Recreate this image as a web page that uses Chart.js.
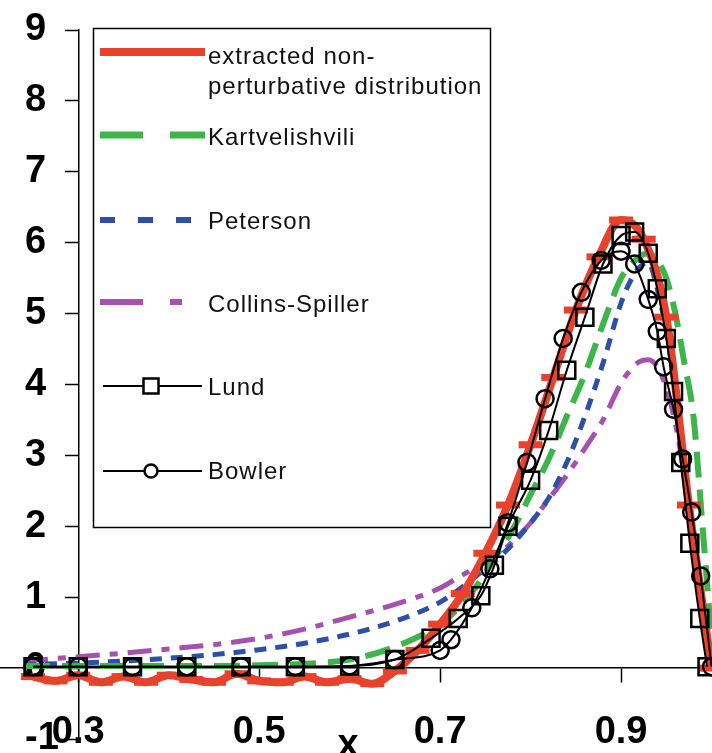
<!DOCTYPE html>
<html>
<head>
<meta charset="utf-8">
<script src="https://cdn.jsdelivr.net/npm/chart.js@4.4.1/dist/chart.umd.min.js"></script>
<style>
  html, body { margin: 0; padding: 0; background: #fff; }
  canvas { display: block; }
</style>
</head>
<body>
<canvas id="c" width="712" height="753"></canvas>
<script>
// x tick labels shown under the axis
const xTicks = [0.3, 0.5, 0.7, 0.9];

// smooth model curves (Kartvelishvili, Peterson, Collins-Spiller)
const xCurve = [0.24, 0.3, 0.35, 0.4, 0.45, 0.5, 0.55, 0.6, 0.65, 0.7, 0.72, 0.74, 0.76, 0.78, 0.8,
  0.82, 0.84, 0.86, 0.88, 0.9, 0.91, 0.92, 0.93, 0.94, 0.95, 0.96, 0.97, 0.98, 0.99, 1.0];
const kartvelishvili = [0.03, 0.03, 0.03, 0.03, 0.03, 0.04, 0.06, 0.12, 0.3, 0.62, 0.85, 1.15, 1.55, 1.95, 2.45,
  2.95, 3.55, 4.15, 4.85, 5.5, 5.68, 5.8, 5.85, 5.75, 5.5, 5.0, 4.3, 3.55, 2.0, 0.4];
const peterson = [0.05, 0.07, 0.1, 0.14, 0.19, 0.26, 0.35, 0.48, 0.66, 0.93, 1.1, 1.3, 1.5, 1.75, 2.05,
  2.4, 2.9, 3.55, 4.3, 5.15, 5.45, 5.65, 5.72, 5.35, 4.75, 3.95, 2.9, 1.8, 0.75, 0.0];
const collinsSpiller = [0.1, 0.16, 0.21, 0.27, 0.33, 0.42, 0.55, 0.72, 0.9, 1.13, 1.28, 1.42, 1.57, 1.78, 2.05,
  2.38, 2.72, 3.1, 3.5, 4.02, 4.2, 4.32, 4.35, 4.25, 3.95, 3.45, 2.7, 1.75, 0.8, 0.0];

// extracted non-perturbative distribution (binned points)
const xExtracted = [0.25, 0.275, 0.3, 0.325, 0.35, 0.375, 0.4, 0.425, 0.45, 0.475, 0.5, 0.525, 0.55, 0.575,
  0.6, 0.625, 0.65, 0.675, 0.7, 0.725, 0.75, 0.775, 0.8, 0.825, 0.85, 0.875, 0.9, 0.925, 0.95, 0.975, 1.0];
const extracted = [-0.12, -0.18, -0.1, -0.2, -0.12, -0.2, -0.1, -0.16, -0.2, -0.08, -0.18, -0.2, -0.12, -0.2,
  -0.15, -0.22, -0.04, 0.25, 0.62, 1.05, 1.62, 2.3, 3.15, 4.1, 5.05, 5.8, 6.32, 6.05, 4.95, 2.3, 0.0];

// Lund (squares)
const xLund = [0.25, 0.3, 0.36, 0.42, 0.48, 0.54, 0.6, 0.65, 0.69, 0.72, 0.745, 0.76, 0.775, 0.8, 0.82, 0.84,
  0.86, 0.88, 0.9, 0.915, 0.93, 0.94, 0.95, 0.958, 0.966, 0.976, 0.987, 0.995];
const lund = [0.02, 0.02, 0.02, 0.02, 0.02, 0.02, 0.03, 0.12, 0.42, 0.7, 1.02, 1.45, 2.0, 2.65, 3.35, 4.2,
  4.95, 5.7, 6.1, 6.15, 5.85, 5.35, 4.65, 3.9, 2.9, 1.76, 0.7, 0.02];

// Bowler (circles)
const xBowler = [0.25, 0.3, 0.36, 0.42, 0.48, 0.54, 0.6, 0.65, 0.7, 0.712, 0.735, 0.755, 0.775, 0.796, 0.816,
  0.836, 0.856, 0.878, 0.9, 0.915, 0.93, 0.94, 0.947, 0.958, 0.968, 0.978, 0.988, 1.0];
const bowler = [0.02, 0.02, 0.02, 0.02, 0.02, 0.02, 0.03, 0.12, 0.25, 0.4, 0.85, 1.4, 2.05, 2.9, 3.8,
  4.65, 5.3, 5.75, 5.88, 5.7, 5.2, 4.75, 4.25, 3.65, 2.95, 2.2, 1.3, 0.02];

const pts = (xs, ys) => xs.map((x, i) => ({ x, y: ys[i] }));

const RED = "#e8412c";
const GREEN = "#3cb64a";
const BLUE = "#2e4fa6";
const PURPLE = "#a650b0";
const tickFont = { family: '"Liberation Sans", Arial, sans-serif', size: 38, weight: "bold" };

// legend box drawn in Excel style (box, samples, two-line first label)
const boxLegend = {
  id: "boxLegend",
  afterDraw(chart) {
    const ctx = chart.ctx;
    ctx.save();
    ctx.strokeStyle = "#000";
    ctx.lineWidth = 1.5;
    ctx.strokeRect(93.5, 28.5, 397, 499);

    const line = (y, color, width, dash) => {
      ctx.beginPath();
      ctx.strokeStyle = color;
      ctx.lineWidth = width;
      ctx.setLineDash(dash);
      ctx.moveTo(100, y);
      ctx.lineTo(205, y);
      ctx.stroke();
      ctx.setLineDash([]);
    };
    line(52, RED, 8, []);
    line(135, GREEN, 7, [43, 27]);
    line(220, BLUE, 6, [15, 23]);
    line(302, PURPLE, 6, [43, 27, 12, 27]);

    ctx.strokeStyle = "#000";
    ctx.lineWidth = 2;
    ctx.beginPath();
    ctx.moveTo(103, 386);
    ctx.lineTo(202, 386);
    ctx.moveTo(103, 471);
    ctx.lineTo(202, 471);
    ctx.stroke();
    ctx.lineWidth = 2.5;
    ctx.fillStyle = "#fff";
    ctx.fillRect(143.5, 378.5, 15, 15);
    ctx.strokeRect(143.5, 378.5, 15, 15);
    ctx.beginPath();
    ctx.arc(151, 471, 6.5, 0, Math.PI * 2);
    ctx.fill();
    ctx.stroke();

    ctx.fillStyle = "#111";
    ctx.font = '24px "Liberation Sans", Arial, sans-serif';
    ctx.letterSpacing = "1px";
    ctx.textBaseline = "middle";
    ctx.textAlign = "left";
    ctx.fillText("extracted non-", 208, 57);
    ctx.fillText("perturbative distribution", 208, 87);
    ctx.fillText("Kartvelishvili", 208, 138);
    ctx.fillText("Peterson", 208, 222);
    ctx.fillText("Collins-Spiller", 208, 305);
    ctx.fillText("Lund", 208, 388);
    ctx.fillText("Bowler", 208, 472);

    // axis title sits in the tick-label row
    ctx.letterSpacing = "0px";
    ctx.fillStyle = "#000";
    ctx.font = 'bold 38px "Liberation Sans", Arial, sans-serif';
    ctx.textAlign = "center";
    ctx.textBaseline = "alphabetic";
    ctx.fillText("x", 348, 756);
    ctx.restore();
  },
};

new Chart(document.getElementById("c"), {
  type: "scatter",
  data: {
    datasets: [
      {
        label: "Lund",
        data: pts(xLund, lund),
        showLine: true,
        borderColor: "#000",
        borderWidth: 2,
        pointStyle: "rect",
        pointRadius: 12,
        pointBorderWidth: 2.5,
        pointBorderColor: "#000",
        pointBackgroundColor: "transparent",
        cubicInterpolationMode: "monotone",
        order: 0,
      },
      {
        label: "Bowler",
        data: pts(xBowler, bowler),
        showLine: true,
        borderColor: "#000",
        borderWidth: 2,
        pointStyle: "circle",
        pointRadius: 8.5,
        pointBorderWidth: 2.5,
        pointBorderColor: "#000",
        pointBackgroundColor: "transparent",
        cubicInterpolationMode: "monotone",
        order: 1,
      },
      {
        label: "extracted non-perturbative distribution",
        data: pts(xExtracted, extracted),
        showLine: true,
        borderColor: RED,
        borderWidth: 8,
        pointStyle: "line",
        pointRadius: 12,
        pointBorderWidth: 7,
        pointBorderColor: RED,
        cubicInterpolationMode: "monotone",
        order: 2,
      },
      {
        label: "Kartvelishvili",
        data: pts(xCurve, kartvelishvili),
        showLine: true,
        borderColor: GREEN,
        borderWidth: 6,
        borderDash: [26, 12],
        pointRadius: 0,
        cubicInterpolationMode: "monotone",
        order: 3,
      },
      {
        label: "Peterson",
        data: pts(xCurve, peterson),
        showLine: true,
        borderColor: BLUE,
        borderWidth: 5,
        borderDash: [12, 9],
        pointRadius: 0,
        cubicInterpolationMode: "monotone",
        order: 4,
      },
      {
        label: "Collins-Spiller",
        data: pts(xCurve, collinsSpiller),
        showLine: true,
        borderColor: PURPLE,
        borderWidth: 5,
        borderDash: [24, 10, 8, 10],
        pointRadius: 0,
        cubicInterpolationMode: "monotone",
        order: 5,
      },
    ],
  },
  options: {
    responsive: false,
    animation: false,
    layout: { autoPadding: false, padding: { top: 30, bottom: 14, left: 0, right: 0 } },
    plugins: { legend: { display: false }, tooltip: { enabled: false } },
    scales: {
      x: {
        type: "linear",
        min: 0.2135,
        max: 1.0005,
        position: { y: 0 },
        afterBuildTicks(axis) {
          axis.ticks = xTicks.map((v) => ({ value: v }));
        },
        afterFit(scale) {
          scale.paddingLeft = 0;
          scale.paddingRight = 0;
        },
        border: { color: "#000", width: 1.5 },
        grid: { drawOnChartArea: false, tickLength: 14, tickColor: "#000", tickWidth: 1.5 },
        ticks: {
          padding: 28,
          color: "#000",
          font: tickFont,
          maxRotation: 0,
          autoSkip: false,
          callback: (v) => Number(v).toFixed(1),
        },
      },
      y: {
        type: "linear",
        min: -1,
        max: 9,
        position: { x: 0.3 },
        border: { color: "#000", width: 1.5 },
        grid: { drawOnChartArea: false, tickLength: 13, tickColor: "#000", tickWidth: 1.5 },
        ticks: { display: false, stepSize: 1 },
      },
      yLabels: {
        axis: "y",
        type: "linear",
        min: -1,
        max: 9,
        position: "left",
        border: { display: false },
        grid: { display: false },
        ticks: { stepSize: 1, mirror: true, padding: 25, color: "#000", font: tickFont },
        afterFit(scale) {
          scale.width = 0;
          scale.paddingTop = 0;
          scale.paddingBottom = 0;
        },
      },
    },
  },
  plugins: [boxLegend],
});
</script>
</body>
</html>
